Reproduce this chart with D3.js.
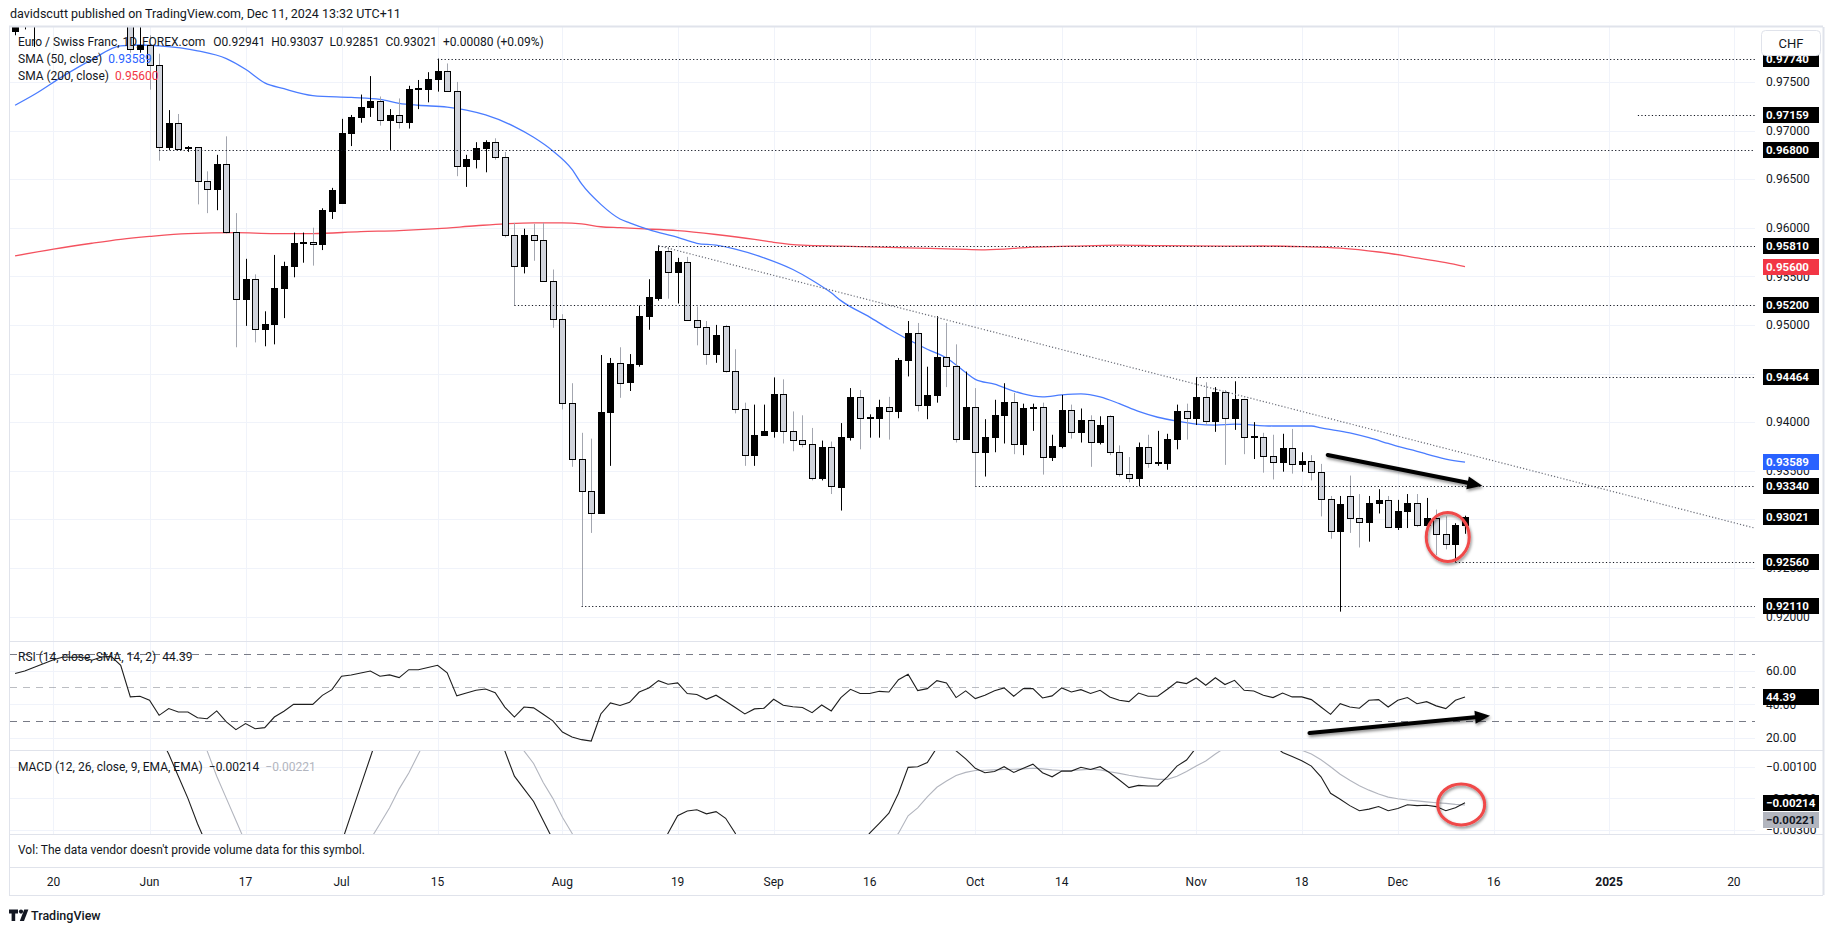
<!DOCTYPE html>
<html>
<head>
<meta charset="utf-8">
<script src="https://cdnjs.cloudflare.com/ajax/libs/d3/7.8.5/d3.min.js"></script>
<style>
body { margin:0; background:#fff; }
text { font-family: Roboto, "Noto Sans", sans-serif; }
</style>
</head>
<body>
<svg id="chart" width="1835" height="931"></svg>
<script>
// daily EUR/CHF candles, first one is 2024-05-14, one per weekday
var firstDay = "2024-05-14";

var openP = [
0.9802,0.9812,0.9838,0.9848,0.9860,0.9880,0.9895,0.9905,0.9915,0.9925,
0.9918,0.9900,0.9860,0.9784,0.9788,0.9767,0.9683,0.9708,0.9682,0.9683,
0.9648,0.9640,0.9666,0.9596,0.9527,0.9547,0.9496,0.9501,0.9538,0.9561,
0.9584,0.9585,0.9583,0.9617,0.9625,0.9697,0.9714,0.9724,0.9730,0.9711,
0.9716,0.9709,0.9743,0.9743,0.9753,0.9761,0.9741,0.9663,0.9671,0.9682,
0.9688,0.9673,0.9593,0.9561,0.9592,0.9587,0.9545,0.9506,0.9420,0.9362,
0.9329,0.9307,0.9410,0.9461,0.9441,0.9460,0.9509,0.9528,0.9576,0.9554,
0.9565,0.9505,0.9498,0.9470,0.9499,0.9453,0.9414,0.9366,0.9387,0.9391,
0.9429,0.9391,0.9382,0.9377,0.9343,0.9374,0.9333,0.9385,0.9426,0.9404,
0.9404,0.9416,0.9411,0.9464,0.9492,0.9418,0.9428,0.9467,0.9458,0.9383,
0.9416,0.9369,0.9385,0.9407,0.9421,0.9377,0.9415,0.9416,0.9364,0.9375,
0.9412,0.9390,0.9402,0.9380,0.9406,0.9369,0.9347,0.9342,0.9374,0.9358,
0.9358,0.9383,0.9411,0.9404,0.9426,0.9401,0.9431,0.9404,0.9424,0.9385,
0.9385,0.9365,0.9359,0.9373,0.9357,0.9360,0.9349,0.9321,0.9288,0.9324,
0.9301,0.9297,0.9317,0.9320,0.9292,0.9309,0.9317,0.9294,0.9301,0.9285,
0.9275,0.92941];
var highP = [
0.9822,0.9845,0.9860,0.9875,0.9890,0.9905,0.9925,0.9930,0.9935,0.9938,
0.9930,0.9915,0.9870,0.9812,0.9798,0.9779,0.9721,0.9717,0.9684,0.9683,
0.9658,0.9675,0.9694,0.9615,0.9568,0.9552,0.9514,0.9572,0.9565,0.9595,
0.9595,0.9600,0.9620,0.9641,0.9712,0.9716,0.9737,0.9756,0.9735,0.9722,
0.9733,0.9746,0.9752,0.9760,0.9774,0.9769,0.9750,0.9675,0.9688,0.9690,
0.9692,0.9678,0.9605,0.9599,0.9604,0.9605,0.9557,0.9511,0.9440,0.9389,
0.9383,0.9469,0.9466,0.9477,0.9470,0.9520,0.9547,0.9582,0.9580,0.9569,
0.9570,0.9519,0.9504,0.9500,0.9500,0.9475,0.9420,0.9418,0.9418,0.9446,
0.9444,0.9411,0.9407,0.9394,0.9381,0.9380,0.9399,0.9435,0.9433,0.9408,
0.9423,0.9426,0.9466,0.9504,0.9502,0.9457,0.9509,0.9502,0.9480,0.9452,
0.9435,0.9403,0.9423,0.9440,0.9430,0.9419,0.9419,0.9420,0.9387,0.9428,
0.9418,0.9414,0.9407,0.9406,0.9407,0.9376,0.9364,0.9379,0.9387,0.9391,
0.9388,0.9418,0.9419,0.9446,0.9441,0.9436,0.9433,0.9442,0.9424,0.9400,
0.9389,0.9387,0.9388,0.9393,0.9369,0.9366,0.9357,0.9324,0.9324,0.9345,
0.9326,0.9324,0.9331,0.9324,0.9320,0.9326,0.9326,0.9322,0.9310,0.9303,
0.9296,0.93037];
var lowP = [
0.9798,0.9804,0.9786,0.9830,0.9845,0.9862,0.9880,0.9885,0.9900,0.9905,
0.9880,0.9845,0.9780,0.9780,0.9742,0.9669,0.9680,0.9681,0.9678,0.9624,
0.9615,0.9618,0.9594,0.9477,0.9499,0.9482,0.9478,0.9480,0.9507,0.9549,
0.9564,0.9561,0.9577,0.9609,0.9625,0.9684,0.9708,0.9714,0.9705,0.9680,
0.9702,0.9702,0.9722,0.9729,0.9740,0.9740,0.9653,0.9642,0.9661,0.9657,
0.9670,0.9590,0.9520,0.9553,0.9566,0.9545,0.9497,0.9413,0.9354,0.9211,
0.9286,0.9307,0.9355,0.9425,0.9432,0.9457,0.9495,0.9525,0.9527,0.9522,
0.9504,0.9479,0.9459,0.9461,0.9451,0.9409,0.9355,0.9355,0.9386,0.9384,
0.9378,0.9370,0.9374,0.9340,0.9340,0.9326,0.9309,0.9381,0.9372,0.9384,
0.9384,0.9382,0.9404,0.9447,0.9411,0.9403,0.9420,0.9436,0.9379,0.9382,
0.9334,0.9344,0.9369,0.9378,0.9367,0.9366,0.9391,0.9346,0.9360,0.9373,
0.9383,0.9379,0.9354,0.9377,0.9366,0.9344,0.9338,0.9334,0.9353,0.9355,
0.9351,0.9372,0.9382,0.9397,0.9397,0.9390,0.9356,0.9392,0.9367,0.9362,
0.9348,0.9341,0.9349,0.9347,0.9349,0.9340,0.9303,0.9280,0.9205,0.9286,
0.9271,0.9277,0.9306,0.9291,0.9289,0.9291,0.9292,0.9293,0.9263,0.9269,
0.9256,0.92851];
var closeP = [
0.9815,0.9838,0.9852,0.9860,0.9880,0.9895,0.9905,0.9915,0.9925,0.9918,
0.9900,0.9860,0.9784,0.9788,0.9767,0.9683,0.9708,0.9681,0.9683,0.9648,
0.9640,0.9666,0.9596,0.9527,0.9547,0.9496,0.9501,0.9538,0.9561,0.9584,
0.9585,0.9583,0.9618,0.9639,0.9697,0.9714,0.9724,0.9730,0.9711,0.9716,
0.9709,0.9743,0.9744,0.9753,0.9761,0.9741,0.9663,0.9671,0.9682,0.9688,
0.9673,0.9593,0.9561,0.9592,0.9587,0.9545,0.9506,0.9420,0.9362,0.9329,
0.9307,0.9410,0.9461,0.9440,0.9460,0.9509,0.9529,0.9576,0.9554,0.9565,
0.9505,0.9498,0.9470,0.9490,0.9453,0.9414,0.9366,0.9387,0.9391,0.9429,
0.9391,0.9382,0.9377,0.9343,0.9374,0.9334,0.9385,0.9426,0.9404,0.9405,
0.9416,0.9411,0.9464,0.9492,0.9418,0.9428,0.9467,0.9458,0.9383,0.9416,
0.9369,0.9385,0.9407,0.9421,0.9377,0.9415,0.9416,0.9364,0.9375,0.9412,
0.9390,0.9402,0.9380,0.9397,0.9369,0.9347,0.9342,0.9374,0.9358,0.9359,
0.9383,0.9411,0.9404,0.9426,0.9401,0.9431,0.9404,0.9424,0.9385,0.9386,
0.9365,0.9359,0.9373,0.9357,0.9360,0.9349,0.9321,0.9288,0.9316,0.9301,
0.9297,0.9317,0.9320,0.9292,0.9309,0.9317,0.9294,0.9301,0.9285,0.9275,
0.92941,0.93021];

var rsiVals = [
58.2,59.7,62.0,64.1,66.4,68.0,67.8,68.0,66.1,68.0,
68.4,63.1,44.4,44.8,42.4,33.5,37.5,35.5,35.5,32.1,
31.5,36.1,29.6,25.0,28.6,25.6,26.2,32.5,35.9,40.0,
40.0,40.0,45.3,48.7,56.6,57.4,58.5,59.7,56.6,57.4,
55.8,60.5,60.5,61.8,63.1,58.6,45.0,46.7,48.3,49.1,
46.9,38.4,32.5,38.4,37.9,34.1,30.2,23.6,20.7,19.1,
18.3,34.3,40.8,39.3,41.2,47.3,49.7,54.0,51.9,52.7,
46.4,45.8,43.0,45.4,41.8,38.1,34.3,37.3,37.7,43.0,
39.5,38.6,38.1,35.1,39.6,36.1,44.0,48.9,46.4,46.4,
47.7,47.3,54.6,57.8,48.1,49.3,54.0,52.7,44.0,48.0,
43.4,45.4,48.0,49.7,44.8,49.3,49.3,43.8,45.0,49.7,
47.3,48.7,46.4,48.3,44.4,42.4,41.6,46.7,44.8,44.8,
48.9,53.3,52.3,55.6,51.3,55.7,51.7,54.2,48.3,47.9,
45.4,44.0,46.7,44.4,44.4,42.8,38.4,34.1,40.4,38.4,
37.7,42.4,42.8,38.4,42.4,44.0,40.4,41.6,39.1,37.5,
42.4,44.39];

var macdVals = [
0.0030,0.0032,0.0035,0.0038,0.0040,0.0042,0.0044,0.0045,0.0046,0.0046,
0.0044,0.0040,0.0030,0.0021,0.0012,0.0000,-0.0006,-0.0013,-0.0020,-0.0028,
-0.0035,-0.0040,-0.0048,-0.0058,-0.0064,-0.0072,-0.0077,-0.0078,-0.0075,-0.0069,
-0.0063,-0.0057,-0.0050,-0.0042,-0.0034,-0.0025,-0.0016,-0.0007,0.0002,0.0008,
0.0013,0.0018,0.0022,0.0025,0.0027,0.0025,0.0018,0.0013,0.0010,0.0008,
0.0003,-0.0005,-0.0013,-0.0017,-0.0021,-0.0027,-0.0033,-0.0045,-0.0060,-0.0072,
-0.0082,-0.0080,-0.0074,-0.0068,-0.0060,-0.0050,-0.0042,-0.0036,-0.0031,-0.00255,
-0.0024,-0.00236,-0.00249,-0.00242,-0.00263,-0.0031,-0.0040,-0.0044,-0.0047,-0.0046,
-0.0047,-0.0048,-0.0049,-0.0051,-0.0050,-0.0051,-0.0046,-0.0039,-0.0035,-0.0031,
-0.00279,-0.00247,-0.00184,-0.00102,-0.00100,-0.00087,-0.0004,-0.0003,-0.0005,-0.00075,
-0.00105,-0.00119,-0.00115,-0.00100,-0.00118,-0.00105,-0.00092,-0.00119,-0.00132,-0.00114,
-0.00114,-0.00102,-0.00109,-0.00100,-0.00119,-0.00142,-0.00166,-0.00159,-0.00161,-0.00161,
-0.00132,-0.00098,-0.00079,-0.0004,-0.0003,0.0000,0.0000,0.0002,0.0001,-0.0001,
-0.0002,-0.0003,-0.00055,-0.00068,-0.00081,-0.00098,-0.00132,-0.00184,-0.00203,-0.00223,
-0.00239,-0.00234,-0.00226,-0.00239,-0.00232,-0.00220,-0.00223,-0.00222,-0.00226,-0.00239,
-0.00230,-0.00214];

var signalVals = [
0.0025,0.0027,0.0029,0.0031,0.0033,0.0035,0.0037,0.0039,0.0040,0.0041,
0.0042,0.0042,0.0039,0.0036,0.0031,0.0025,0.0018,0.0012,0.0005,-0.0001,
-0.0005,-0.0013,-0.0020,-0.0027,-0.0034,-0.0041,-0.0048,-0.0053,-0.0057,-0.0060,
-0.0061,-0.0060,-0.0058,-0.0054,-0.0050,-0.0045,-0.0039,-0.0033,-0.0028,-0.0023,
-0.0017,-0.0012,-0.0006,0.0000,0.0004,0.0007,0.0008,0.0008,0.0007,0.0006,
0.0004,0.0002,-0.0001,-0.0005,-0.0009,-0.0015,-0.0020,-0.0026,-0.0031,-0.0037,
-0.0045,-0.0052,-0.0057,-0.0060,-0.0062,-0.0061,-0.0058,-0.0055,-0.0051,-0.0047,
-0.0044,-0.0041,-0.0039,-0.0037,-0.0035,-0.0035,-0.0036,-0.0038,-0.0040,-0.0041,
-0.0042,-0.0043,-0.0044,-0.0045,-0.0046,-0.0047,-0.0047,-0.0045,-0.0043,-0.0041,
-0.0038,-0.0035,-0.0031,-0.00255,-0.00230,-0.00195,-0.00165,-0.00145,-0.00128,-0.00118,
-0.00112,-0.00111,-0.00110,-0.00109,-0.00108,-0.00107,-0.00105,-0.00107,-0.00110,-0.00112,
-0.00112,-0.00110,-0.00108,-0.00110,-0.00116,-0.00121,-0.00127,-0.00132,-0.00136,-0.00140,
-0.00140,-0.00130,-0.00115,-0.00098,-0.00082,-0.00060,-0.00040,-0.00030,-0.00020,-0.00020,
-0.00020,-0.00020,-0.00030,-0.00040,-0.00048,-0.00060,-0.00078,-0.00100,-0.00124,-0.00143,
-0.00160,-0.00174,-0.00186,-0.00196,-0.00201,-0.00205,-0.00208,-0.00211,-0.00214,-0.00216,
-0.00219,-0.00221];

// moving averages (bar number, value)
var sma50Bar = [0,2,5,8,11,13,15,19,22,24,26,28,31,35,38,40,42,45,47,49,52,54,56,58,59,61,63,64,66,69,
  71,73,75,78,81,83,85,86,89,91,93,95,97,99,100,102,104,105,107,109,111,113,115,117,119,121,123,125,127,131,
  135,136,139,141,143,144,146,147,149,151];
var sma50 = [0.9726,0.9737,0.9756,0.9773,0.9787,0.9788,0.9787,0.9782,0.9774,0.9763,0.9749,0.9743,0.9736,0.9734,0.9732,
  0.9728,0.9726,0.9724,0.9721,0.9716,0.9704,0.9693,0.9679,0.9660,0.9645,0.9624,0.9609,0.9605,0.9598,0.9590,
  0.9584,0.9582,0.9578,0.9569,0.9557,0.9546,0.9533,0.9525,0.9508,0.9496,0.9485,0.9475,0.9466,0.9451,0.9444,
  0.9439,0.9432,0.9429,0.9426,0.9428,0.9429,0.9426,0.9419,0.9411,0.9405,0.9401,0.9398,0.9397,0.9398,0.9396,
  0.9396,0.9394,0.9389,0.9384,0.9378,0.9375,0.9370,0.9367,0.9362,0.93589];
var sma200Bar = [0,4,8,11,14,18,23,27,31,36,40,44,48,51,54,57,59,61,63,65,69,73,77,79,82,86,90,94,98,101,
  106,110,115,119,126,130,134,138,142,146,149,151];
var sma200 = [0.9571,0.9578,0.9584,0.9588,0.9591,0.9594,0.9595,0.9594,0.9594,0.9596,0.9597,0.9599,0.9602,0.9604,0.9605,
  0.9605,0.9604,0.9601,0.9600,0.9599,0.9597,0.9593,0.9588,0.9585,0.9582,0.9581,0.9580,0.9579,0.9578,0.95772,
  0.9580,0.9581,0.9582,0.95815,0.9581,0.95812,0.95805,0.9579,0.9575,0.9569,0.9564,0.9560];

// drawings
var levelPrices = [0.97740,0.97159,0.96800,0.95810,0.95200,0.94464,0.93340,0.92560,0.92110];
var levelBars = [44,169,15,67,52,123,100,150,59];
var trendBars = [67,123];
var trendPrices = [0.95815,0.94390];

var tickDates = ["2024-05-20","2024-06-03","2024-06-17","2024-07-01","2024-07-15","2024-08-01","2024-08-19",
  "2024-09-02","2024-09-16","2024-10-01","2024-10-14","2024-11-01","2024-11-18","2024-12-02","2024-12-16",
  "2025-01-01","2025-01-20"];
var tickLabels = ["20","Jun","17","Jul","15","Aug","19","Sep","16","Oct","14","Nov","18","Dec","16","2025","20"];

var priceTicks = d3.range(0.920, 0.9751, 0.005);
var rsiTicks = [60,40,20];
var rsiBands = [70,50,30];
var macdTicks = [-0.001,-0.002,-0.003];

// layout
var plotL = 10, plotR = 1755, axisR = 1823;
var mainTop = 27, mainBot = 641, rsiTop = 642, rsiBot = 750, macdTop = 751, macdBot = 834, volBot = 867, timeBot = 895;

var days = [];
var dd = new Date(firstDay + "T00:00:00Z");
while (days.length < 200) {
  var wd = dd.getUTCDay();
  if (wd > 0 && wd < 6) days.push(dd.toISOString().slice(0,10));
  dd.setUTCDate(dd.getUTCDate() + 1);
}

var svg = d3.select("#chart");

var x = d3.scaleLinear().domain([-0.53, 181.2]).range([plotL, plotR]);
var y = d3.scaleLinear().domain([0.91748, 0.98065]).range([mainBot, mainTop]);
var yR = d3.scaleLinear().domain([13.4, 77.3]).range([749.3, 641.3]);
var yM = d3.scaleLinear().domain([-0.003126, -0.000526]).range([macdBot, macdTop + 0.7]);

var defs = svg.append("defs");
function clip(id, y0, y1) {
  defs.append("clipPath").attr("id", id).append("rect")
    .attr("x", plotL).attr("y", y0).attr("width", plotR - plotL).attr("height", y1 - y0);
}
clip("cMain", mainTop, mainBot);
clip("cRsi", rsiTop, rsiBot);
clip("cMacd", macdTop, macdBot);
defs.append("filter").attr("id","shadow").attr("x","-30%").attr("y","-60%").attr("width","160%").attr("height","220%")
  .append("feDropShadow").attr("dx",1).attr("dy",2).attr("stdDeviation",1.6)
  .attr("flood-color","#000").attr("flood-opacity",0.45);

svg.append("rect").attr("width",1835).attr("height",931).attr("fill","#fff");

var tickBars = tickDates.map(function(d){ return days.indexOf(d); });

// grids
var grid = svg.append("g");
tickBars.forEach(function(b){
  var gx = Math.round(x(b)) + 0.5;
  [[mainTop,mainBot],[rsiTop,rsiBot],[macdTop,macdBot]].forEach(function(r){
    grid.append("line").attr("x1",gx).attr("x2",gx).attr("y1",r[0]).attr("y2",r[1])
      .style("stroke","#f0f3fa").style("stroke-width",1);
  });
});
priceTicks.forEach(function(p){
  var gy = Math.round(y(p)) + 0.5;
  grid.append("line").attr("x1",plotL).attr("x2",plotR).attr("y1",gy).attr("y2",gy)
    .style("stroke","#f0f3fa");
});
rsiTicks.forEach(function(v){
  var gy = Math.round(yR(v)) + 0.5;
  grid.append("line").attr("x1",plotL).attr("x2",plotR).attr("y1",gy).attr("y2",gy).style("stroke","#f0f3fa");
});
macdTicks.forEach(function(v){
  var gy = Math.round(yM(v)) + 0.5;
  grid.append("line").attr("x1",plotL).attr("x2",plotR).attr("y1",gy).attr("y2",gy).style("stroke","#f0f3fa");
});

// main pane
var gm = svg.append("g").attr("clip-path","url(#cMain)");

var smaLine = d3.line()
  .x(function(d){ return x(d[0]); })
  .y(function(d){ return y(d[1]); })
  .curve(d3.curveMonotoneX);

gm.append("path").datum(sma200Bar.map(function(b,i){ return [b, sma200[i]]; }))
  .attr("d", smaLine).attr("fill","none").style("stroke","#f4525f").style("stroke-width",1.3);
gm.append("path").datum(sma50Bar.map(function(b,i){ return [b, sma50[i]]; }))
  .attr("d", smaLine).attr("fill","none").style("stroke","#4a7cff").style("stroke-width",1.3);

var candles = closeP.map(function(c,i){
  return {bar:i, o:openP[i], h:highP[i], l:lowP[i], c:c, up: c >= openP[i]};
});

gm.selectAll(".wick").data(candles).enter().append("line")
  .attr("class","wick")
  .attr("x1", function(d){ return Math.round(x(d.bar)) + 0.5; })
  .attr("x2", function(d){ return Math.round(x(d.bar)) + 0.5; })
  .attr("y1", function(d){ return y(d.h); })
  .attr("y2", function(d){ return y(d.l); })
  .style("stroke", function(d){ return d.up ? "#000" : "#a3a6af"; })
  .style("stroke-width",1);

gm.selectAll(".body").data(candles).enter().append("rect")
  .attr("class","body")
  .attr("x", function(d){ return Math.round(x(d.bar)) - 3 + 0.5; })
  .attr("y", function(d){ return Math.round(y(Math.max(d.o,d.c))) + 0.5; })
  .attr("width", 6)
  .attr("height", function(d){ return Math.max(1, Math.round(y(Math.min(d.o,d.c))) - Math.round(y(Math.max(d.o,d.c)))); })
  .attr("fill", function(d){ return d.up ? "#000" : "#d1d4dc"; })
  .style("stroke","#000").style("stroke-width",1);

// horizontal levels
levelPrices.forEach(function(p,i){
  var ly = Math.round(y(p)) + 0.5;
  gm.append("line").attr("x1", x(levelBars[i])).attr("x2", plotR).attr("y1", ly).attr("y2", ly)
    .style("stroke","#131722").style("stroke-width",1.2).style("stroke-dasharray","1.2,2.3");
});

// trend line extended to the right
var tSlope = (trendPrices[1] - trendPrices[0]) / (trendBars[1] - trendBars[0]);
var tEnd = x.domain()[1];
gm.append("line")
  .attr("x1", x(trendBars[0])).attr("y1", y(trendPrices[0]))
  .attr("x2", x(tEnd)).attr("y2", y(trendPrices[0] + tSlope * (tEnd - trendBars[0])))
  .style("stroke","#6a6d78").style("stroke-width",1.2).style("stroke-dasharray","1.2,2");

function drawArrow(g, x1, y1, x2, y2) {
  var ang = Math.atan2(y2 - y1, x2 - x1), hl = 15, hw = 6.5;
  var bx = x2 - hl * Math.cos(ang), by = y2 - hl * Math.sin(ang);
  var px = -Math.sin(ang) * hw, py = Math.cos(ang) * hw;
  var grp = g.append("g").attr("filter","url(#shadow)");
  grp.append("line").attr("x1",x1).attr("y1",y1).attr("x2",bx).attr("y2",by)
    .style("stroke","#000").style("stroke-width",4).style("stroke-linecap","round");
  grp.append("path").attr("d","M"+x2+","+y2+"L"+(bx+px)+","+(by+py)+"L"+(bx-px)+","+(by-py)+"Z")
    .attr("fill","#000");
}

drawArrow(gm, x(136.7), y(0.93662), x(152.8), y(0.93346));

gm.append("ellipse").attr("cx", x(149.2)).attr("cy", y(0.92818)).attr("rx",21.5).attr("ry",24.5)
  .attr("fill","none").style("stroke","#f04848").style("stroke-width",3).attr("filter","url(#shadow)");

// RSI pane
var gr = svg.append("g").attr("clip-path","url(#cRsi)");
rsiBands.forEach(function(v,i){
  var gy = Math.round(yR(v)) + 0.5;
  gr.append("line").attr("x1",plotL).attr("x2",plotR).attr("y1",gy).attr("y2",gy)
    .style("stroke","#787b86").style("stroke-opacity", i == 1 ? 0.5 : 1)
    .style("stroke-dasharray","7,6");
});
var rsiLine = d3.line().x(function(d,i){ return x(i); }).y(function(d){ return yR(d); });
gr.append("path").datum(rsiVals).attr("d", rsiLine).attr("fill","none")
  .style("stroke","#1e1e1e").style("stroke-width",1.1);
drawArrow(gr, x(134.8), yR(23), x(153.6), yR(33.2));

// MACD pane
var gmc = svg.append("g").attr("clip-path","url(#cMacd)");
var macdLine = d3.line().x(function(d,i){ return x(i); }).y(function(d){ return yM(d); });
gmc.append("path").datum(signalVals).attr("d", macdLine).attr("fill","none")
  .style("stroke","#b2b5be").style("stroke-width",1.1);
gmc.append("path").datum(macdVals).attr("d", macdLine).attr("fill","none")
  .style("stroke","#1e1e1e").style("stroke-width",1.1);
gmc.append("ellipse").attr("cx", x(150.6)).attr("cy", yM(-0.002194)).attr("rx",23.5).attr("ry",20.5)
  .attr("fill","none").style("stroke","#f04848").style("stroke-width",3).attr("filter","url(#shadow)");

// frame and separators
var fr = svg.append("g");
[mainTop - 0.5, mainBot + 0.5, rsiBot + 0.5, macdBot + 0.5, volBot + 0.5, timeBot + 0.5].forEach(function(sy){
  fr.append("line").attr("x1",9).attr("x2",axisR).attr("y1",sy).attr("y2",sy)
    .style("stroke","#e0e3eb").style("stroke-width", sy < 30 ? 2 : 1);
});
fr.append("line").attr("x1",9.5).attr("x2",9.5).attr("y1",mainTop).attr("y2",timeBot).style("stroke","#e0e3eb");
fr.append("line").attr("x1",axisR+0.5).attr("x2",axisR+0.5).attr("y1",mainTop).attr("y2",timeBot).style("stroke","#e0e3eb").style("stroke-width",2);

// price axis
var ax = svg.append("g").style("font-size","12px").attr("fill","#131722");
priceTicks.forEach(function(p){
  ax.append("text").attr("x",1766).attr("y",y(p)).attr("dy","0.35em").text(d3.format(".5f")(p));
});
rsiTicks.forEach(function(v){
  ax.append("text").attr("x",1766).attr("y",yR(v)).attr("dy","0.35em").text(d3.format(".2f")(v));
});
macdTicks.forEach(function(v){
  ax.append("text").attr("x",1766).attr("y",yM(v)).attr("dy","0.35em").text(d3.format(".5f")(v).replace("-","\u2212"));
});

function priceTag(ty, label, bg, fg) {
  ax.append("rect").attr("x",1763).attr("y",Math.round(ty) - 8).attr("width",56).attr("height",16).attr("fill",bg);
  ax.append("text").attr("x",1766).attr("y",Math.round(ty)).attr("dy","0.36em")
    .attr("fill",fg).style("font-size","11.5px").style("font-weight","bold").text(label);
}
levelPrices.forEach(function(p){ priceTag(y(p), d3.format(".5f")(p), "#000", "#fff"); });
priceTag(y(sma200[sma200.length-1]), d3.format(".5f")(sma200[sma200.length-1]), "#f23645", "#fff");
priceTag(y(sma50[sma50.length-1]), d3.format(".5f")(sma50[sma50.length-1]), "#2962ff", "#fff");
priceTag(y(closeP[closeP.length-1]), d3.format(".5f")(closeP[closeP.length-1]), "#000", "#fff");
priceTag(yR(rsiVals[rsiVals.length-1]), d3.format(".2f")(rsiVals[rsiVals.length-1]), "#000", "#fff");
var lastMacd = macdVals[macdVals.length-1], lastSig = signalVals[signalVals.length-1];
priceTag(yM(lastMacd), d3.format(".5f")(lastMacd).replace("-","\u2212"), "#000", "#fff");
priceTag(yM(lastMacd) + 17, d3.format(".5f")(lastSig).replace("-","\u2212"), "#b2b5be", "#131722");

// currency button
svg.append("rect").attr("x",1761.5).attr("y",30.5).attr("width",59).attr("height",25).attr("rx",4)
  .attr("fill","#fff").style("stroke","#e0e3eb");
svg.append("text").attr("x",1791).attr("y",43).attr("dy","0.35em").attr("text-anchor","middle")
  .style("font-size","13px").attr("fill","#131722").text("CHF");

// time axis
var tx = svg.append("g").style("font-size","12px").attr("fill","#131722");
tickBars.forEach(function(b,i){
  tx.append("text").attr("x", x(b)).attr("y", 882).attr("dy","0.35em").attr("text-anchor","middle")
    .style("font-weight", tickLabels[i] == "2025" ? "bold" : "normal").text(tickLabels[i]);
});

// legends
var lg = svg.append("g").style("font-size","12px").attr("fill","#131722");
svg.append("text").attr("x",10).attr("y",14).attr("dy","0.35em").style("font-size","12.5px")
  .attr("fill","#131722").text("davidscutt published on TradingView.com, Dec 11, 2024 13:32 UTC+11");

var last = closeP.length - 1;
var chg = closeP[last] - closeP[last-1];
var l1 = lg.append("text").attr("x",18).attr("y",42).attr("dy","0.35em");
l1.append("tspan").text("Euro / Swiss Franc, 1D, FOREX.com");
l1.append("tspan").attr("dx",8).text("O" + d3.format(".5f")(openP[last]));
l1.append("tspan").attr("dx",6).text("H" + d3.format(".5f")(highP[last]));
l1.append("tspan").attr("dx",6).text("L" + d3.format(".5f")(lowP[last]));
l1.append("tspan").attr("dx",6).text("C" + d3.format(".5f")(closeP[last]));
l1.append("tspan").attr("dx",6).text(d3.format("+.5f")(chg) + " (" + d3.format("+.2%")(chg / closeP[last-1]) + ")");

var l2 = lg.append("text").attr("x",18).attr("y",58.5).attr("dy","0.35em");
l2.append("tspan").text("SMA (50, close)");
l2.append("tspan").attr("dx",6).attr("fill","#2962ff").text(d3.format(".5f")(sma50[sma50.length-1]));
var l3 = lg.append("text").attr("x",18).attr("y",75.5).attr("dy","0.35em");
l3.append("tspan").text("SMA (200, close)");
l3.append("tspan").attr("dx",6).attr("fill","#f23645").text(d3.format(".5f")(sma200[sma200.length-1]));

var l4 = lg.append("text").attr("x",18).attr("y",657).attr("dy","0.35em");
l4.append("tspan").text("RSI (14, close, SMA, 14, 2)");
l4.append("tspan").attr("dx",6).text(d3.format(".2f")(rsiVals[rsiVals.length-1]));

var l5 = lg.append("text").attr("x",18).attr("y",767).attr("dy","0.35em");
l5.append("tspan").text("MACD (12, 26, close, 9, EMA, EMA)");
l5.append("tspan").attr("dx",6).text(d3.format(".5f")(lastMacd).replace("-","\u2212"));
l5.append("tspan").attr("dx",6).attr("fill","#b2b5be").text(d3.format(".5f")(lastSig).replace("-","\u2212"));

lg.append("text").attr("x",18).attr("y",850).attr("dy","0.35em")
  .text("Vol: The data vendor doesn't provide volume data for this symbol.");

// logo
var logo = svg.append("g").attr("fill","#131722");
logo.append("path").attr("d","M9,909.5h9v4h-2.8v7.5h-3.6v-7.5h-2.6z");
logo.append("circle").attr("cx",21).attr("cy",911.6).attr("r",2.1);
logo.append("path").attr("d","M24.2,909.5h4.2l-4.4,11.5h-4.2z");
logo.append("text").attr("x",31).attr("y",915.5).attr("dy","0.35em").style("font-size","12.5px")
  .style("font-weight","500").text("TradingView");
</script>
</body>
</html>
